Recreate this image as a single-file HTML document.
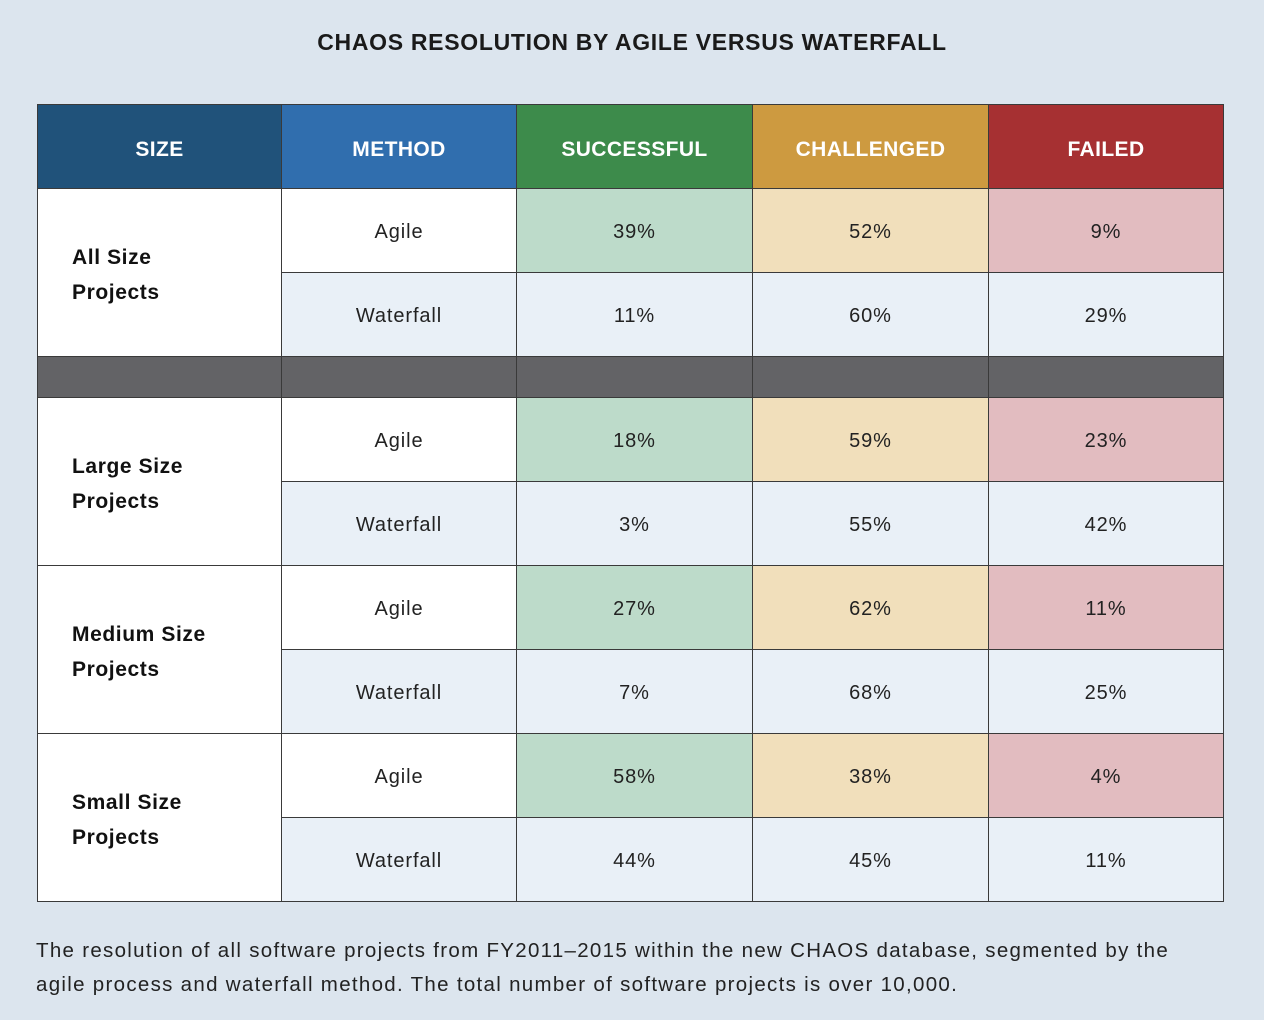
<!DOCTYPE html>
<html><head><meta charset="utf-8"><style>
body{margin:0;width:1264px;height:1020px;background:#dce5ee;position:relative;font-family:"Liberation Sans",sans-serif;overflow:hidden}
.c{position:absolute;box-sizing:border-box;border:1px solid #3a3a3a;display:flex;align-items:center;justify-content:center;font-size:20px;color:#222;padding-top:4px;letter-spacing:0.9px}
.h{color:#fff;font-weight:bold;font-size:21px;letter-spacing:0.4px;padding-top:6px}
.s{justify-content:flex-start;padding-left:34px;font-weight:bold;line-height:35px;font-size:21px;color:#111;letter-spacing:0.6px}
#title{position:absolute;top:29px;left:0;width:1264px;text-align:center;font-weight:bold;font-size:23px;color:#1a1a1a;letter-spacing:0.7px}
#cap{position:absolute;left:36px;top:934px;font-size:20.5px;line-height:34px;color:#222;letter-spacing:1.3px;white-space:nowrap}
</style></head><body>
<div id="title">CHAOS RESOLUTION BY AGILE VERSUS WATERFALL</div>
<div id="tbl"></div>
<div id="cap">The resolution of all software projects from FY2011–2015 within the new CHAOS database, segmented by the<br>agile process and waterfall method. The total number of software projects is over 10,000.</div>
<script>
const headers=["SIZE","METHOD","SUCCESSFUL","CHALLENGED","FAILED"];
const sizes=["All Size<br>Projects","Large Size<br>Projects","Medium Size<br>Projects","Small Size<br>Projects"];
const methods=["Agile","Waterfall"];
const successful=[39,11,18,3,27,7,58,44];
const challenged=[52,60,59,55,62,68,38,45];
const failed=[9,29,23,42,11,25,4,11];
const colX=[37,281,516,752,988,1223];
const hdrBg=["#20527a","#306eae","#3d8b4b","#cd9a40","#a63032"];
const agileBg=["#bddbca","#f1dfbb","#e2bcc0"];
const t=document.getElementById('tbl');
function cell(x1,y1,x2,y2,bg,html,cls){const d=document.createElement('div');d.className='c '+(cls||'');d.style.left=x1+'px';d.style.top=y1+'px';d.style.width=(x2-x1+1)+'px';d.style.height=(y2-y1+1)+'px';d.style.background=bg;d.innerHTML=html;t.appendChild(d);return d;}
headers.forEach((h,i)=>{const d=cell(colX[i],104,colX[i+1],188,hdrBg[i],h,'h');

});
const groupTop=[188,397,565,733];
for(let i=0;i<5;i++){const d=cell(colX[i],356,colX[i+1],397,'#636366','');

}
sizes.forEach((s,gi)=>{const y=groupTop[gi];
const d=cell(colX[0],y,colX[1],y+168,'#fff',s,'s');


methods.forEach((m,mi)=>{const idx=gi*2+mi;const y1=y+mi*84,y2=y1+84;
const mc=cell(colX[1],y1,colX[2],y2,mi?'#e9f0f7':'#fff',m);


[successful,challenged,failed].forEach((arr,k)=>{const vc=cell(colX[2+k],y1,colX[3+k],y2,mi?'#e9f0f7':agileBg[k],arr[idx]+'%');

});});});
</script>
</body></html>
